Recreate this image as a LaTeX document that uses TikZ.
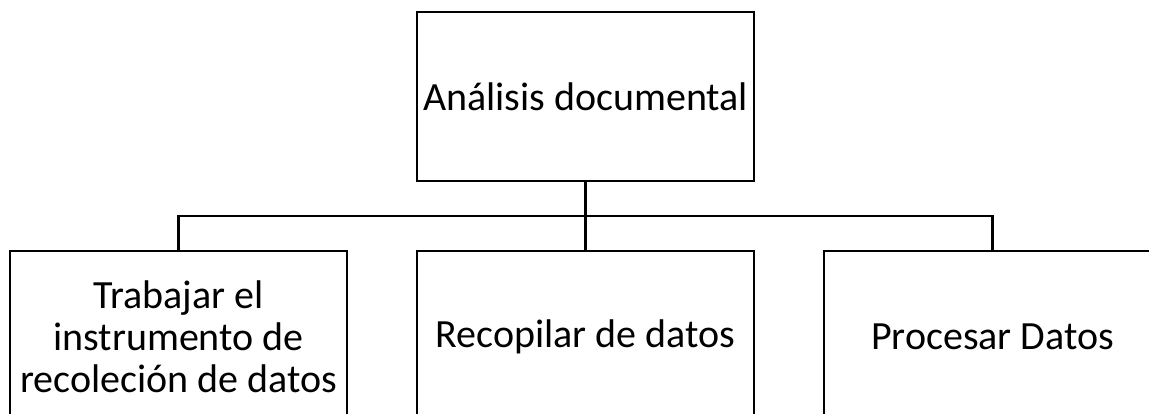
\documentclass[tikz,border=0pt]{standalone}
\usepackage{fontspec}
\setmainfont{Carlito}
\usepackage{tikz}
\usetikzlibrary{positioning,calc}
\tikzset{
  topbox/.style = {rectangle, draw=black, line width=2.6pt, fill=white,
                   minimum width=337pt, minimum height=169pt, outer sep=0pt,
                   font=\fontsize{40}{42}\selectfont, align=center, inner sep=2pt},
  subbox/.style = {topbox, minimum height=172pt},
  con/.style    = {draw=black, line width=2.6pt},
}
\begin{document}
\begin{tikzpicture}[node distance=70pt and 70pt]
  \clip (0,0) rectangle (1149pt,-414pt);
  \node[topbox] (ana) at (585.5pt,-96.5pt) {Análisis documental};
  \node[subbox, below=of ana] (rec) {Recopilar de datos};
  \node[subbox, left=of rec] (tra) {Trabajar el\\instrumento de\\recoleción de datos};
  \node[subbox, right=of rec] (pro) {Procesar Datos};
  \coordinate (bar) at ($(ana.south)!0.5!(rec.north)$);
  \draw[con] (ana.south) -- (rec.north);
  \draw[con] (tra.north) |- (bar) -| (pro.north);
\end{tikzpicture}
\end{document}
